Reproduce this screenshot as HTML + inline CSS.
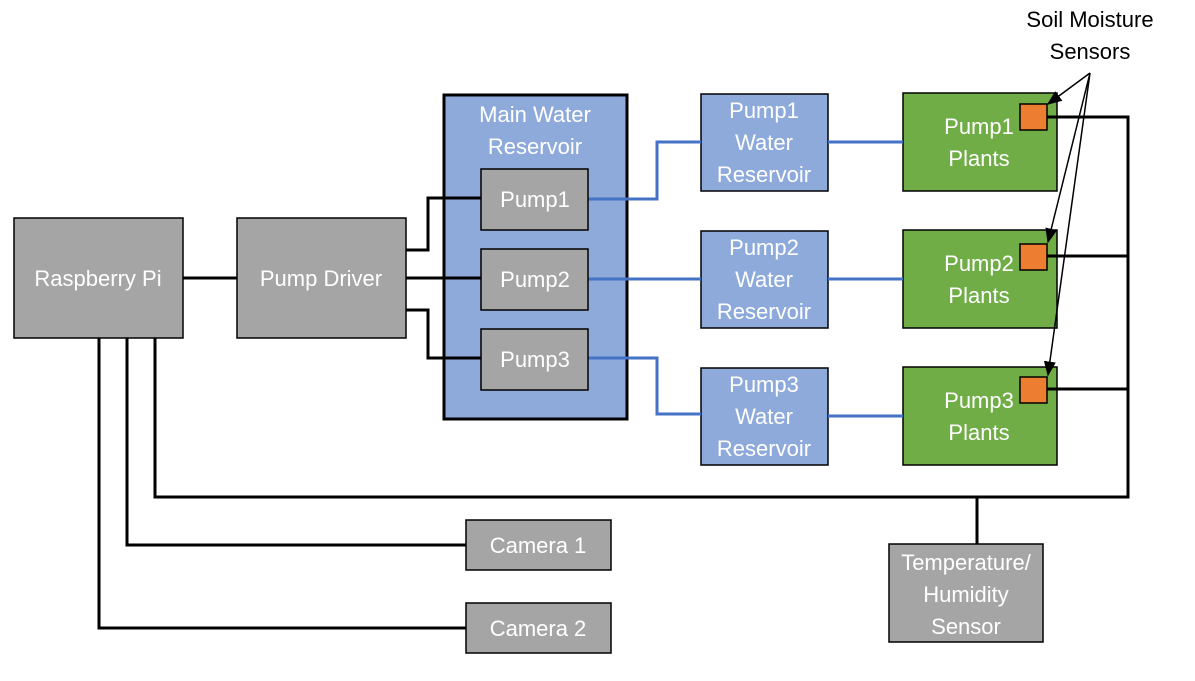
<!DOCTYPE html>
<html><head><style>
body{margin:0;background:#fff;}
svg text{font-family:"Liberation Sans",sans-serif;font-size:22px;text-anchor:middle;}
.w{fill:#fff}
</style></head><body>
<svg width="1195" height="676" xmlns="http://www.w3.org/2000/svg">
<defs><marker id="a" markerWidth="10" markerHeight="8" refX="9" refY="4" orient="auto"><path d="M0,0L10,4L0,8z" fill="#000"/></marker></defs>
<rect x="444" y="95" width="183" height="324" fill="#8eaadb" stroke="#000" stroke-width="3"/>
<g fill="#8eaadb" stroke="#000" stroke-width="1.5">
<rect x="701" y="94" width="127" height="97"/><rect x="701" y="231" width="127" height="97"/><rect x="701" y="368" width="127" height="97"/>
</g>
<g fill="#70ad47" stroke="#000" stroke-width="1.5">
<rect x="903" y="93" width="154" height="98"/><rect x="903" y="230" width="154" height="98"/><rect x="903" y="367" width="154" height="98"/>
</g>
<g fill="none" stroke="#000" stroke-width="3">
<path d="M183,278H237"/>
<path d="M406,250H428V198H481M406,278H481M406,310H428V358H481"/>
<path d="M99,338V628H466M127,338V545H466M155,338V497H1128V117H1047M1128,256H1047M1128,389H1047M977,497V544"/>
</g>
<g fill="none" stroke="#4472c4" stroke-width="3">
<path d="M588,199H657V142H701M588,279H701M588,358H657V414H701M828,142H903M828,279H903M828,416H903"/>
</g>
<g fill="#a5a5a5" stroke="#000" stroke-width="1.5">
<rect x="481" y="169" width="107" height="61"/><rect x="481" y="249" width="107" height="61"/><rect x="481" y="329" width="107" height="61"/>
<rect x="14" y="218" width="169" height="120"/><rect x="237" y="218" width="169" height="120"/>
<rect x="466" y="520" width="145" height="50"/><rect x="466" y="603" width="145" height="50"/>
<rect x="889" y="544" width="154" height="98"/>
</g>
<g fill="#ed7d31" stroke="#000" stroke-width="1.5">
<rect x="1020" y="104" width="27" height="26"/><rect x="1020" y="244" width="27" height="26"/><rect x="1020" y="377" width="27" height="26"/>
</g>
<g stroke="#000" stroke-width="1.5" marker-end="url(#a)">
<line x1="1090" y1="73" x2="1048" y2="104"/><line x1="1090" y1="73" x2="1048" y2="242"/><line x1="1090" y1="73" x2="1048" y2="375"/>
</g>
<g class="w">
<text x="535" y="122">Main Water</text><text x="535" y="154">Reservoir</text>
<text x="535" y="207">Pump1</text><text x="535" y="287">Pump2</text><text x="535" y="367">Pump3</text>
<text x="98" y="286">Raspberry Pi</text><text x="321" y="286">Pump Driver</text>
<text x="538" y="553">Camera 1</text><text x="538" y="636">Camera 2</text>
<text x="966" y="570">Temperature/</text><text x="966" y="602">Humidity</text><text x="966" y="634">Sensor</text>
<text x="764" y="118">Pump1</text><text x="764" y="150">Water</text><text x="764" y="182">Reservoir</text>
<text x="764" y="255">Pump2</text><text x="764" y="287">Water</text><text x="764" y="319">Reservoir</text>
<text x="764" y="392">Pump3</text><text x="764" y="424">Water</text><text x="764" y="456">Reservoir</text>
<text x="979" y="134">Pump1</text><text x="979" y="166">Plants</text>
<text x="979" y="271">Pump2</text><text x="979" y="303">Plants</text>
<text x="979" y="408">Pump3</text><text x="979" y="440">Plants</text>
</g>
<text x="1090" y="27">Soil Moisture</text><text x="1090" y="59">Sensors</text>
</svg>
</body></html>
